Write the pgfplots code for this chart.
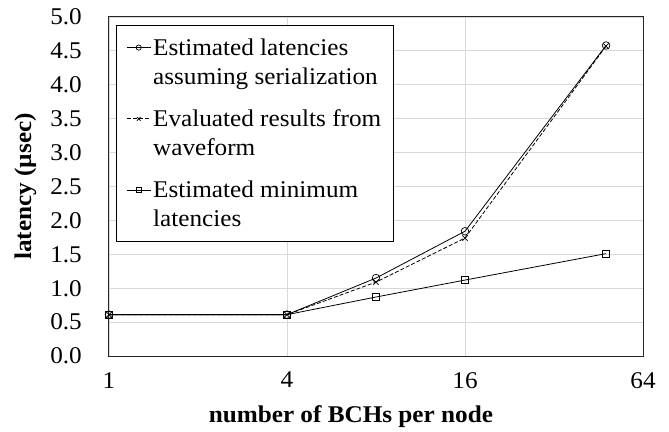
\documentclass[border=0pt]{standalone}
\usepackage{pgfplots}
\pgfplotsset{compat=1.18}
\usepackage{fontspec}
\setmainfont[FakeStretch=1.05]{Liberation Serif}
\definecolor{gridgray}{RGB}{217,217,217}
\begin{document}
\begin{tikzpicture}
\begin{axis}[
  scale only axis,
  width=534bp, height=339bp,
  xmode=log, log basis x=2,
  xmin=1, xmax=64,
  ymin=0, ymax=5,
  xtick={1,4,16,64},
  xticklabels={1,4,16,64},
  ytick={0,0.5,...,5},
  /pgf/number format/fixed,
  /pgf/number format/fixed zerofill,
  /pgf/number format/precision=1,
  /pgf/number format/assume math mode=true,
  yticklabel style={inner sep=0pt, xshift=-27bp},
  xticklabel style={inner sep=0pt, yshift=-16bp},
  major tick length=0pt,
  tick style={draw=none},
  ymajorgrids, xmajorgrids,
  grid style={gridgray, line width=0.8bp},
  axis line style={black!85, line width=1bp},
  tick label style={font=\fontsize{24bp}{28bp}\selectfont},
  label style={font=\fontsize{24bp}{28bp}\selectfont\bfseries},
  xlabel={number of BCHs per node},
  ylabel={latency (µsec)},
  xlabel style={at={(axis description cs:0.453,-0.1947)}, anchor=base},
  ylabel style={at={(axis description cs:-0.146,0.5)}, anchor=base},
  legend style={at={(0.013,0.976)}, anchor=north west, draw=black, line width=0.8bp,
    font=\fontsize{24bp}{29bp}\selectfont, nodes={align=left},
    inner xsep=10bp, inner ysep=11bp, row sep=20bp, fill=white},
  legend cell align=left,
  legend image code/.code={\path[draw=none,fill=none] (0bp,-14.5bp) -- (0bp,14.5bp);\draw[mark repeat=2,mark phase=2,#1,mark size=2.6bp] plot coordinates {(0bp,14.5bp)(12bp,14.5bp)(24bp,14.5bp)};},
]
\addplot[black, line width=0.8bp, mark=o, mark size=3.8bp, mark options={solid, line width=0.7bp}]
  coordinates {(1,0.61) (4,0.61) (8,1.15) (16,1.84) (48,4.58)};
\addlegendentry{Estimated latencies\\assuming serialization}
\addplot[black, line width=0.8bp, dash pattern=on 4bp off 2bp, mark=x, mark size=3.8bp, mark options={solid, line width=0.7bp}]
  coordinates {(1,0.61) (4,0.61) (8,1.09) (16,1.74) (48,4.57)};
\addlegendentry{Evaluated results from\\waveform}
\addplot[black, line width=0.8bp, mark=square, mark size=3.6bp, mark options={solid, line width=0.7bp}]
  coordinates {(1,0.61) (4,0.61) (8,0.87) (16,1.12) (48,1.51)};
\addlegendentry{Estimated minimum\\latencies}
\end{axis}
\pgfresetboundingbox
\path[use as bounding box] (-109bp,-76bp) rectangle (560bp,356bp);
\end{tikzpicture}
\end{document}
